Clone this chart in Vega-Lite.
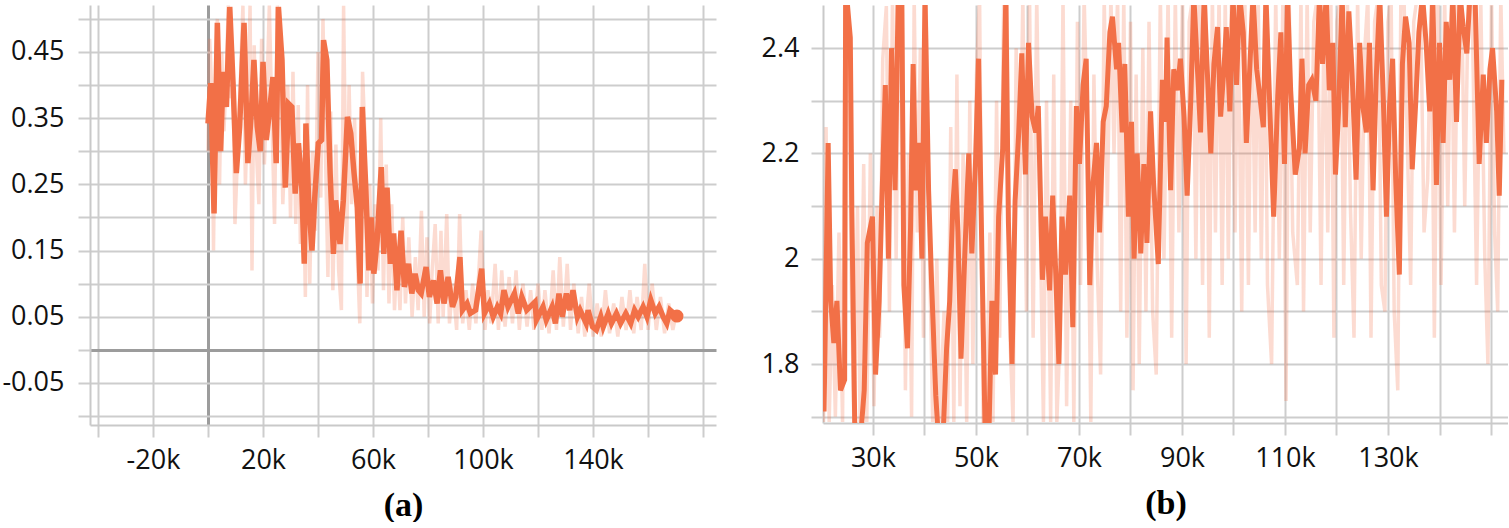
{
  "$schema": "https://vega.github.io/schema/vega-lite/v6.json",
  "padding": {"left": 1, "top": 4, "right": 0, "bottom": 0},
  "spacing": 45,
  "config": {
    "view": {"stroke": null},
    "font": "Open Sans",
    "axis": {
      "domainColor": "#c9c9c9",
      "domainWidth": 2,
      "gridColor": {"condition": {"test": "datum.value === 0", "value": "#9c9c9c"}, "value": "#cdcdcd"},
      "gridWidth": {"condition": {"test": "datum.value === 0", "value": 3}, "value": 2},
      "tickColor": "#cdcdcd",
      "tickWidth": 2,
      "tickSize": 12,
      "labelFont": "Open Sans",
      "labelFontSize": 27,
      "labelColor": "#111111",
      "labelPadding": 10,
      "titleFont": "Liberation Serif",
      "titleFontWeight": "bold",
      "titleFontSize": 34,
      "titleColor": "#000000",
      "titlePadding": 15
    }
  },
  "datasets": {
    "aSmooth": [
      {"step":0,"value":0.342},{"step":1000,"value":0.403},{"step":2200,"value":0.206},{"step":3400,"value":0.494},{"step":4600,"value":0.30},{"step":5500,"value":0.42},{"step":6700,"value":0.367},{"step":7900,"value":0.518},{"step":9100,"value":0.403},{"step":10300,"value":0.267},{"step":11500,"value":0.337},{"step":13100,"value":0.494},{"step":14500,"value":0.282},{"step":15800,"value":0.362},{"step":16700,"value":0.438},{"step":17900,"value":0.337},{"step":19000,"value":0.30},{"step":20000,"value":0.435},{"step":21200,"value":0.317},{"step":22400,"value":0.362},{"step":23600,"value":0.412},{"step":24800,"value":0.282},{"step":25600,"value":0.518},{"step":26900,"value":0.438},{"step":28100,"value":0.245},{"step":29300,"value":0.372},{"step":30500,"value":0.367},{"step":31700,"value":0.236},{"step":32900,"value":0.312},{"step":34100,"value":0.245},{"step":35000,"value":0.130},{"step":35600,"value":0.342},{"step":36600,"value":0.226},{"step":37800,"value":0.150},{"step":38900,"value":0.236},{"step":40100,"value":0.312},{"step":41300,"value":0.317},{"step":42000,"value":0.468},{"step":43200,"value":0.438},{"step":44400,"value":0.267},{"step":45600,"value":0.145},{"step":46400,"value":0.226},{"step":48000,"value":0.160},{"step":49200,"value":0.226},{"step":50700,"value":0.352},{"step":51900,"value":0.327},{"step":53100,"value":0.267},{"step":54300,"value":0.215},{"step":55300,"value":0.100},{"step":56100,"value":0.367},{"step":57300,"value":0.251},{"step":58500,"value":0.120},{"step":59400,"value":0.200},{"step":60300,"value":0.115},{"step":61500,"value":0.165},{"step":63000,"value":0.276},{"step":63900,"value":0.145},{"step":65100,"value":0.245},{"step":66300,"value":0.130},{"step":67500,"value":0.176},{"step":68700,"value":0.090},{"step":70200,"value":0.180},{"step":71400,"value":0.095},{"step":72900,"value":0.130},{"step":74100,"value":0.085},{"step":75300,"value":0.115},{"step":76500,"value":0.090},{"step":77500,"value":0.085},{"step":79300,"value":0.125},{"step":80500,"value":0.080},{"step":82000,"value":0.105},{"step":83300,"value":0.070},{"step":84500,"value":0.120},{"step":85800,"value":0.070},{"step":87300,"value":0.110},{"step":88900,"value":0.065},{"step":90100,"value":0.080},{"step":91600,"value":0.140},{"step":92500,"value":0.060},{"step":94200,"value":0.070},{"step":95400,"value":0.055},{"step":97300,"value":0.060},{"step":99500,"value":0.1225},{"step":100500,"value":0.055},{"step":102300,"value":0.070},{"step":103700,"value":0.050},{"step":105200,"value":0.065},{"step":106400,"value":0.055},{"step":107600,"value":0.090},{"step":109100,"value":0.065},{"step":111400,"value":0.085},{"step":112800,"value":0.055},{"step":114100,"value":0.080},{"step":115900,"value":0.060},{"step":118900,"value":0.0725},{"step":119400,"value":0.045},{"step":121800,"value":0.065},{"step":123000,"value":0.045},{"step":125100,"value":0.065},{"step":126300,"value":0.040},{"step":127600,"value":0.085},{"step":128800,"value":0.050},{"step":130300,"value":0.085},{"step":131500,"value":0.060},{"step":132700,"value":0.090},{"step":134300,"value":0.050},{"step":135300,"value":0.060},{"step":137500,"value":0.040},{"step":138200,"value":0.060},{"step":139800,"value":0.035},{"step":141200,"value":0.030},{"step":142800,"value":0.050},{"step":143700,"value":0.035},{"step":145500,"value":0.055},{"step":146700,"value":0.040},{"step":148500,"value":0.055},{"step":150000,"value":0.040},{"step":151900,"value":0.055},{"step":153700,"value":0.040},{"step":155100,"value":0.060},{"step":156400,"value":0.050},{"step":158200,"value":0.065},{"step":159600,"value":0.050},{"step":161000,"value":0.075},{"step":162600,"value":0.055},{"step":164000,"value":0.065},{"step":165500,"value":0.050},{"step":166800,"value":0.040},{"step":168000,"value":0.060},{"step":170500,"value":0.051}
    ],
    "aRaw": [
      {"step":0,"value":0.30},{"step":600,"value":0.47},{"step":1500,"value":0.38},{"step":2000,"value":0.15},{"step":2800,"value":0.44},{"step":3400,"value":0.50},{"step":4200,"value":0.25},{"step":5000,"value":0.45},{"step":5800,"value":0.33},{"step":6500,"value":0.40},{"step":7400,"value":0.52},{"step":8300,"value":0.38},{"step":9000,"value":0.45},{"step":9800,"value":0.19},{"step":10800,"value":0.30},{"step":11800,"value":0.41},{"step":12700,"value":0.52},{"step":13600,"value":0.25},{"step":14400,"value":0.36},{"step":15300,"value":0.52},{"step":16000,"value":0.12},{"step":16800,"value":0.46},{"step":17600,"value":0.30},{"step":18500,"value":0.22},{"step":19500,"value":0.47},{"step":20500,"value":0.28},{"step":21500,"value":0.40},{"step":22300,"value":0.52},{"step":23300,"value":0.34},{"step":24200,"value":0.19},{"step":25200,"value":0.52},{"step":26200,"value":0.47},{"step":27200,"value":0.22},{"step":28200,"value":0.33},{"step":29000,"value":0.40},{"step":30000,"value":0.20},{"step":30900,"value":0.42},{"step":31900,"value":0.19},{"step":32800,"value":0.37},{"step":33600,"value":0.16},{"step":34600,"value":0.29},{"step":35400,"value":0.08},{"step":36200,"value":0.40},{"step":37000,"value":0.10},{"step":38000,"value":0.30},{"step":39000,"value":0.18},{"step":40000,"value":0.45},{"step":41000,"value":0.23},{"step":41800,"value":0.50},{"step":42700,"value":0.30},{"step":43600,"value":0.11},{"step":44600,"value":0.36},{"step":45400,"value":0.09},{"step":46500,"value":0.31},{"step":47500,"value":0.12},{"step":48500,"value":0.06},{"step":49300,"value":0.52},{"step":50400,"value":0.15},{"step":51300,"value":0.40},{"step":52200,"value":0.22},{"step":53300,"value":0.35},{"step":54400,"value":0.13},{"step":55200,"value":0.04},{"step":56200,"value":0.42},{"step":57000,"value":0.33},{"step":57800,"value":0.08},{"step":58800,"value":0.25},{"step":59800,"value":0.07},{"step":60800,"value":0.22},{"step":61800,"value":0.12},{"step":62800,"value":0.35},{"step":63800,"value":0.09},{"step":64800,"value":0.28},{"step":65800,"value":0.07},{"step":66800,"value":0.22},{"step":67800,"value":0.06},{"step":68800,"value":0.15},{"step":69800,"value":0.06},{"step":70800,"value":0.20},{"step":71800,"value":0.07},{"step":73000,"value":0.17},{"step":74200,"value":0.05},{"step":75400,"value":0.14},{"step":76400,"value":0.06},{"step":77600,"value":0.21},{"step":78600,"value":0.05},{"step":79600,"value":0.17},{"step":80600,"value":0.04},{"step":81500,"value":0.12},{"step":82600,"value":0.19},{"step":83700,"value":0.04},{"step":84700,"value":0.18},{"step":85500,"value":0.05},{"step":86800,"value":0.205},{"step":87800,"value":0.04},{"step":89000,"value":0.10},{"step":90400,"value":0.03},{"step":91500,"value":0.205},{"step":92600,"value":0.04},{"step":93800,"value":0.09},{"step":95000,"value":0.03},{"step":96200,"value":0.10},{"step":97400,"value":0.04},{"step":99300,"value":0.18},{"step":100700,"value":0.03},{"step":101800,"value":0.09},{"step":102900,"value":0.04},{"step":104400,"value":0.13},{"step":105600,"value":0.03},{"step":106800,"value":0.12},{"step":108000,"value":0.035},{"step":109500,"value":0.11},{"step":110700,"value":0.04},{"step":112000,"value":0.12},{"step":113200,"value":0.03},{"step":114500,"value":0.10},{"step":116000,"value":0.035},{"step":117300,"value":0.09},{"step":118500,"value":0.03},{"step":120000,"value":0.10},{"step":121400,"value":0.03},{"step":122500,"value":0.09},{"step":124000,"value":0.025},{"step":125500,"value":0.12},{"step":126700,"value":0.03},{"step":127900,"value":0.14},{"step":129200,"value":0.035},{"step":130600,"value":0.13},{"step":131800,"value":0.03},{"step":133000,"value":0.10},{"step":134600,"value":0.025},{"step":135800,"value":0.08},{"step":137000,"value":0.02},{"step":138600,"value":0.10},{"step":140000,"value":0.02},{"step":141500,"value":0.07},{"step":143000,"value":0.02},{"step":144500,"value":0.09},{"step":146000,"value":0.025},{"step":147500,"value":0.07},{"step":149000,"value":0.02},{"step":150500,"value":0.08},{"step":152000,"value":0.03},{"step":153400,"value":0.09},{"step":154800,"value":0.025},{"step":156000,"value":0.08},{"step":157500,"value":0.03},{"step":158800,"value":0.13},{"step":160000,"value":0.03},{"step":161500,"value":0.10},{"step":163000,"value":0.03},{"step":164500,"value":0.08},{"step":166000,"value":0.025},{"step":167500,"value":0.07},{"step":169000,"value":0.03},{"step":170500,"value":0.06}
    ],
    "aEnd": [{"step":170500,"value":0.051}],
    "bSmooth": [
      {"step":20500,"value":1.71},{"step":21300,"value":2.22},{"step":21800,"value":1.92},{"step":22400,"value":1.84},{"step":23000,"value":1.92},{"step":23700,"value":1.75},{"step":24500,"value":1.77},{"step":24700,"value":2.52},{"step":25600,"value":2.42},{"step":25900,"value":2.09},{"step":26500,"value":1.66},{"step":27600,"value":1.66},{"step":28300,"value":1.75},{"step":28900,"value":2.03},{"step":29900,"value":2.08},{"step":30500,"value":1.78},{"step":31200,"value":1.92},{"step":31700,"value":2.10},{"step":32400,"value":2.33},{"step":33000,"value":2.00},{"step":33600,"value":2.40},{"step":34300,"value":2.13},{"step":34900,"value":2.50},{"step":35600,"value":2.50},{"step":36000,"value":1.95},{"step":36700,"value":1.83},{"step":37300,"value":2.06},{"step":37800,"value":2.37},{"step":38300,"value":2.13},{"step":39000,"value":2.22},{"step":39500,"value":2.00},{"step":40100,"value":2.50},{"step":40800,"value":2.13},{"step":41400,"value":1.95},{"step":42200,"value":1.74},{"step":42700,"value":1.66},{"step":43600,"value":1.66},{"step":44300,"value":1.83},{"step":44900,"value":1.92},{"step":45500,"value":2.10},{"step":46000,"value":2.17},{"step":46500,"value":2.05},{"step":47100,"value":1.81},{"step":47800,"value":2.00},{"step":48600,"value":2.20},{"step":49200,"value":2.01},{"step":49900,"value":2.18},{"step":50500,"value":2.38},{"step":51200,"value":1.98},{"step":51800,"value":1.66},{"step":52500,"value":1.66},{"step":53100,"value":1.92},{"step":53800,"value":1.78},{"step":54400,"value":2.08},{"step":55200,"value":2.21},{"step":55800,"value":2.50},{"step":56300,"value":2.07},{"step":57000,"value":1.80},{"step":57600,"value":2.11},{"step":58300,"value":2.24},{"step":58900,"value":2.39},{"step":59600,"value":2.16},{"step":60200,"value":2.41},{"step":60900,"value":2.27},{"step":61600,"value":2.24},{"step":62100,"value":2.29},{"step":62900,"value":1.96},{"step":63500,"value":2.08},{"step":64300,"value":1.94},{"step":64900,"value":2.12},{"step":65500,"value":1.97},{"step":66100,"value":1.80},{"step":66700,"value":2.08},{"step":67400,"value":1.97},{"step":68200,"value":2.12},{"step":68800,"value":1.87},{"step":69500,"value":2.29},{"step":70100,"value":2.18},{"step":70800,"value":2.33},{"step":71400,"value":2.38},{"step":72100,"value":1.95},{"step":72700,"value":2.14},{"step":73400,"value":2.22},{"step":74000,"value":2.05},{"step":74700,"value":2.26},{"step":75300,"value":2.29},{"step":76000,"value":2.43},{"step":76500,"value":2.46},{"step":77300,"value":2.36},{"step":77700,"value":2.41},{"step":78400,"value":2.24},{"step":78900,"value":2.37},{"step":79600,"value":2.08},{"step":80200,"value":2.26},{"step":80700,"value":2.00},{"step":81300,"value":2.20},{"step":82000,"value":2.01},{"step":82600,"value":2.18},{"step":83200,"value":2.03},{"step":83900,"value":2.28},{"step":84500,"value":2.14},{"step":85400,"value":1.99},{"step":86200,"value":2.34},{"step":86800,"value":2.26},{"step":87100,"value":2.42},{"step":87800,"value":2.13},{"step":88400,"value":2.36},{"step":89100,"value":2.32},{"step":89700,"value":2.38},{"step":90400,"value":2.27},{"step":91000,"value":2.12},{"step":91700,"value":2.30},{"step":92300,"value":2.50},{"step":93000,"value":2.36},{"step":93600,"value":2.24},{"step":94300,"value":2.50},{"step":94900,"value":2.36},{"step":95600,"value":2.20},{"step":96200,"value":2.37},{"step":96900,"value":2.44},{"step":97500,"value":2.27},{"step":98200,"value":2.37},{"step":98600,"value":2.44},{"step":99300,"value":2.28},{"step":99900,"value":2.50},{"step":100600,"value":2.33},{"step":101200,"value":2.50},{"step":101900,"value":2.43},{"step":102500,"value":2.22},{"step":103200,"value":2.37},{"step":103800,"value":2.50},{"step":104500,"value":2.36},{"step":105100,"value":2.31},{"step":105800,"value":2.25},{"step":106300,"value":2.50},{"step":106900,"value":2.33},{"step":107800,"value":2.08},{"step":108600,"value":2.31},{"step":109200,"value":2.43},{"step":109900,"value":2.18},{"step":110500,"value":2.50},{"step":111100,"value":2.32},{"step":112000,"value":2.16},{"step":112800,"value":2.21},{"step":113300,"value":2.38},{"step":113900,"value":2.20},{"step":114600,"value":2.33},{"step":115200,"value":2.34},{"step":116000,"value":2.30},{"step":116700,"value":2.50},{"step":117300,"value":2.37},{"step":118000,"value":2.50},{"step":118600,"value":2.32},{"step":119300,"value":2.41},{"step":119800,"value":2.16},{"step":120400,"value":2.28},{"step":121100,"value":2.50},{"step":121700,"value":2.25},{"step":122400,"value":2.47},{"step":123000,"value":2.36},{"step":123800,"value":2.15},{"step":124500,"value":2.41},{"step":125100,"value":2.29},{"step":125800,"value":2.24},{"step":126400,"value":2.41},{"step":127100,"value":2.13},{"step":127700,"value":2.34},{"step":128400,"value":2.50},{"step":129100,"value":2.30},{"step":129700,"value":2.08},{"step":130300,"value":2.29},{"step":130900,"value":2.38},{"step":131500,"value":2.15},{"step":132200,"value":1.97},{"step":132800,"value":2.37},{"step":133400,"value":2.46},{"step":134100,"value":2.41},{"step":134700,"value":2.17},{"step":135400,"value":2.30},{"step":136000,"value":2.43},{"step":136700,"value":2.50},{"step":137400,"value":2.41},{"step":138100,"value":2.28},{"step":138700,"value":2.50},{"step":139400,"value":2.14},{"step":140000,"value":2.41},{"step":140700,"value":2.22},{"step":141300,"value":2.45},{"step":142000,"value":2.34},{"step":142600,"value":2.50},{"step":143300,"value":2.26},{"step":144000,"value":2.50},{"step":144600,"value":2.44},{"step":145300,"value":2.39},{"step":145900,"value":2.50},{"step":146900,"value":2.50},{"step":147700,"value":2.18},{"step":148500,"value":2.35},{"step":149100,"value":2.22},{"step":149800,"value":2.36},{"step":150300,"value":2.40},{"step":151100,"value":2.28},{"step":151600,"value":2.12},{"step":152100,"value":2.34}
    ],
    "bRaw": [
      {"step":20400,"value":1.69},{"step":20900,"value":2.25},{"step":21500,"value":1.69},{"step":22100,"value":1.95},{"step":22700,"value":1.70},{"step":23400,"value":2.05},{"step":24100,"value":1.69},{"step":24600,"value":2.50},{"step":25200,"value":2.50},{"step":25800,"value":1.95},{"step":26300,"value":1.69},{"step":27000,"value":2.10},{"step":27500,"value":1.69},{"step":28200,"value":2.18},{"step":28800,"value":1.69},{"step":29500,"value":2.20},{"step":30200,"value":1.72},{"step":30800,"value":2.10},{"step":31300,"value":1.85},{"step":31900,"value":2.38},{"step":32600,"value":2.48},{"step":33200,"value":1.90},{"step":33800,"value":2.50},{"step":34500,"value":2.00},{"step":35100,"value":2.50},{"step":35700,"value":2.50},{"step":36300,"value":1.75},{"step":36900,"value":2.20},{"step":37500,"value":1.70},{"step":38000,"value":2.50},{"step":38600,"value":2.05},{"step":39200,"value":2.40},{"step":39800,"value":1.85},{"step":40300,"value":2.50},{"step":41000,"value":2.00},{"step":41600,"value":1.69},{"step":42400,"value":2.00},{"step":43000,"value":1.69},{"step":43800,"value":1.90},{"step":44500,"value":1.69},{"step":45100,"value":2.25},{"step":45700,"value":1.69},{"step":46300,"value":2.35},{"step":46900,"value":1.72},{"step":47500,"value":2.20},{"step":48200,"value":1.69},{"step":48800,"value":2.30},{"step":49400,"value":1.80},{"step":50100,"value":2.35},{"step":50700,"value":2.50},{"step":51400,"value":1.69},{"step":52000,"value":1.69},{"step":52700,"value":2.05},{"step":53300,"value":1.69},{"step":54000,"value":2.30},{"step":54600,"value":1.85},{"step":55400,"value":2.50},{"step":56000,"value":2.50},{"step":56600,"value":1.85},{"step":57200,"value":1.69},{"step":57800,"value":2.40},{"step":58500,"value":2.10},{"step":59100,"value":2.50},{"step":59800,"value":1.90},{"step":60400,"value":2.50},{"step":61100,"value":1.85},{"step":61800,"value":2.50},{"step":62400,"value":2.10},{"step":63100,"value":1.69},{"step":63700,"value":2.30},{"step":64500,"value":1.69},{"step":65100,"value":2.35},{"step":65700,"value":1.69},{"step":66300,"value":1.85},{"step":66900,"value":2.50},{"step":67600,"value":1.72},{"step":68400,"value":2.30},{"step":69000,"value":1.69},{"step":69700,"value":2.45},{"step":70300,"value":1.95},{"step":71000,"value":2.50},{"step":71600,"value":2.25},{"step":72300,"value":1.69},{"step":72900,"value":2.35},{"step":73500,"value":2.00},{"step":74200,"value":1.78},{"step":74900,"value":2.50},{"step":75500,"value":2.10},{"step":76200,"value":2.50},{"step":76800,"value":2.20},{"step":77500,"value":2.50},{"step":78100,"value":1.90},{"step":78700,"value":2.50},{"step":79300,"value":1.85},{"step":80000,"value":2.45},{"step":80500,"value":1.75},{"step":81100,"value":2.35},{"step":81700,"value":1.80},{"step":82400,"value":2.40},{"step":83000,"value":1.90},{"step":83600,"value":2.45},{"step":84300,"value":1.90},{"step":85000,"value":1.78},{"step":85800,"value":2.50},{"step":86500,"value":2.00},{"step":87300,"value":2.50},{"step":88000,"value":1.85},{"step":88700,"value":2.50},{"step":89400,"value":2.05},{"step":90100,"value":2.50},{"step":90800,"value":1.80},{"step":91400,"value":2.45},{"step":92100,"value":2.50},{"step":92700,"value":2.00},{"step":93300,"value":2.50},{"step":94000,"value":1.95},{"step":94600,"value":2.50},{"step":95300,"value":1.85},{"step":95900,"value":2.50},{"step":96500,"value":2.05},{"step":97200,"value":2.50},{"step":97800,"value":1.95},{"step":98400,"value":2.50},{"step":99000,"value":2.00},{"step":99600,"value":2.50},{"step":100300,"value":2.05},{"step":100900,"value":2.50},{"step":101600,"value":1.90},{"step":102200,"value":2.50},{"step":102900,"value":1.95},{"step":103500,"value":2.50},{"step":104200,"value":2.05},{"step":104800,"value":2.50},{"step":105400,"value":2.00},{"step":106100,"value":2.50},{"step":106600,"value":1.95},{"step":107400,"value":1.80},{"step":108200,"value":2.50},{"step":108900,"value":2.00},{"step":109600,"value":2.50},{"step":110200,"value":1.73},{"step":110800,"value":2.50},{"step":111500,"value":2.05},{"step":112400,"value":1.95},{"step":113100,"value":2.50},{"step":113600,"value":1.90},{"step":114300,"value":2.50},{"step":114900,"value":2.05},{"step":115600,"value":2.45},{"step":116300,"value":2.50},{"step":117000,"value":1.95},{"step":117600,"value":2.50},{"step":118300,"value":2.05},{"step":118900,"value":2.50},{"step":119500,"value":1.85},{"step":120100,"value":2.45},{"step":120800,"value":2.50},{"step":121400,"value":1.95},{"step":122100,"value":2.50},{"step":122700,"value":2.10},{"step":123400,"value":1.85},{"step":124100,"value":2.50},{"step":124800,"value":2.00},{"step":125500,"value":2.40},{"step":126100,"value":2.50},{"step":126700,"value":1.85},{"step":127400,"value":2.45},{"step":128100,"value":2.50},{"step":128700,"value":1.95},{"step":129400,"value":1.90},{"step":130000,"value":2.45},{"step":130600,"value":2.50},{"step":131200,"value":1.90},{"step":131900,"value":1.75},{"step":132500,"value":2.50},{"step":133100,"value":2.50},{"step":133800,"value":2.20},{"step":134400,"value":1.95},{"step":135000,"value":2.45},{"step":135700,"value":2.50},{"step":136300,"value":2.50},{"step":137000,"value":2.05},{"step":137700,"value":2.15},{"step":138400,"value":2.50},{"step":139000,"value":1.85},{"step":139700,"value":2.50},{"step":140300,"value":1.95},{"step":141000,"value":2.50},{"step":141600,"value":2.10},{"step":142300,"value":2.50},{"step":142900,"value":2.05},{"step":143600,"value":2.50},{"step":144300,"value":2.50},{"step":144900,"value":2.10},{"step":145600,"value":2.50},{"step":146300,"value":2.50},{"step":147200,"value":1.95},{"step":148000,"value":2.50},{"step":148800,"value":2.00},{"step":149400,"value":1.80},{"step":150100,"value":2.50},{"step":150700,"value":2.05},{"step":151300,"value":1.90},{"step":151900,"value":2.50},{"step":152500,"value":2.20}
    ]
  },
  "hconcat": [
    {
      "width": 626,
      "height": 420,
      "encoding": {
        "x": {
          "field": "step", "type": "quantitative",
          "scale": {"domain": [-42900, 184700], "nice": false, "zero": false},
          "axis": {
            "title": "(a)",
            "values": [-40000,-20000,0,20000,40000,60000,80000,100000,120000,140000,160000,180000],
            "labelExpr": "datum.value <= 140000 && (datum.value + 20000) % 40000 === 0 ? datum.value / 1000 + 'k' : ''",
            "labelFlush": false,
            "labelOverlap": false
          }
        },
        "y": {
          "field": "value", "type": "quantitative",
          "scale": {"domain": [-0.1136, 0.521], "nice": false, "zero": false},
          "axis": {
            "title": null,
            "values": [-0.1,-0.05,0,0.05,0.1,0.15,0.2,0.25,0.3,0.35,0.4,0.45,0.5],
            "labelExpr": "abs(round(datum.value * 100)) % 10 === 5 ? (datum.value < 0 ? '-' : '') + format(abs(datum.value), '.2f') : ''",
            "labelFlush": false,
            "labelOverlap": false,
            "labelPadding": 14
          }
        }
      },
      "layer": [
        {"data": {"name": "aRaw"}, "mark": {"type": "line", "color": "#f27047", "opacity": 0.25, "strokeWidth": 3.5, "clip": true}},
        {"data": {"name": "aSmooth"}, "mark": {"type": "line", "color": "#f27047", "strokeWidth": 5.5, "clip": true}},
        {"data": {"name": "aEnd"}, "mark": {"type": "point", "filled": true, "opacity": 1, "color": "#f27047", "size": 170}}
      ]
    },
    {
      "width": 685,
      "height": 418,
      "encoding": {
        "x": {
          "field": "step", "type": "quantitative",
          "scale": {"domain": [20300, 153300], "nice": false, "zero": false},
          "axis": {
            "title": "(b)",
            "values": [30000,40000,50000,60000,70000,80000,90000,100000,110000,120000,130000,140000,150000],
            "labelExpr": "datum.value < 150000 && (datum.value / 10000) % 2 === 1 ? datum.value / 1000 + 'k' : ''",
            "labelFlush": false,
            "labelOverlap": false
          }
        },
        "y": {
          "field": "value", "type": "quantitative",
          "scale": {"domain": [1.688, 2.482], "nice": false, "zero": false},
          "axis": {
            "title": null,
            "values": [1.7,1.8,1.9,2,2.1,2.2,2.3,2.4],
            "labelExpr": "round(datum.value * 10) % 2 === 0 ? '' + datum.value : ''",
            "labelFlush": false,
            "labelOverlap": false,
            "labelPadding": 12
          }
        }
      },
      "layer": [
        {"data": {"name": "bRaw"}, "mark": {"type": "line", "color": "#f27047", "opacity": 0.25, "strokeWidth": 3.5, "clip": true}},
        {"data": {"name": "bSmooth"}, "mark": {"type": "line", "color": "#f27047", "strokeWidth": 5, "clip": true}}
      ]
    }
  ]
}
